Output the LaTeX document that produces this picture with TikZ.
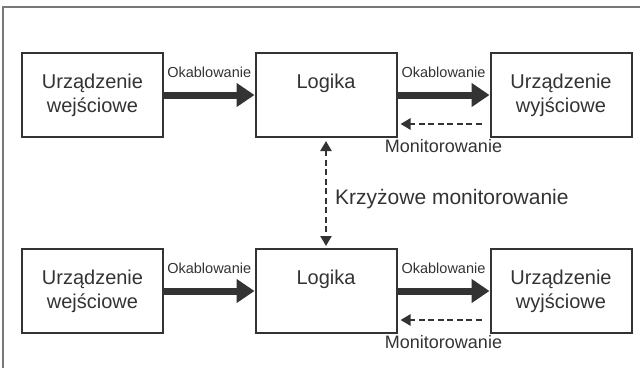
\documentclass[tikz,border=0pt]{standalone}
\usepackage{fontspec}
\setmainfont{Liberation Sans}
\usepackage{tikz}
\usetikzlibrary{arrows.meta}

\definecolor{ink}{RGB}{51,51,51}
\definecolor{framegray}{RGB}{120,120,120}

\begin{document}
\begin{tikzpicture}[x=1pt,y=-1pt,
  block/.style={draw=ink,line width=2pt,minimum width=141pt,minimum height=84pt,
    inner sep=0pt,align=center,text=ink,font=\fontsize{20}{24}\selectfont},
  logicblock/.style={block,text height=15pt,text depth=29pt},
  wiring/.style={draw=ink,line width=7pt,-{Triangle[length=18pt,width=23pt]}},
  monitor/.style={draw=ink,line width=2.4pt,dash pattern={on 6pt off 3.5pt},
    -{Triangle[length=10pt,width=11pt]}},
  smalltag/.style={text=ink,inner sep=0pt,font=\fontsize{14.5}{16}\selectfont},
  tag/.style={text=ink,inner sep=0pt,font=\fontsize{18}{20}\selectfont}]

\useasboundingbox (0,0) rectangle (640,368);

% frame
\draw [framegray,line width=1.5pt] (640,7) -- (3,7) -- (3,368);

% upper channel
\node [block] (in1) at (92.5,95) {Urządzenie\\wejściowe};
\node [logicblock] (logic1) at (326,95) {Logika};
\node [block] (out1) at (561,95) {Urządzenie\\wyjściowe};

% lower channel
\node [block] (in2) at (92.5,291) {Urządzenie\\wejściowe};
\node [logicblock] (logic2) at (326,291) {Logika};
\node [block] (out2) at (561,291) {Urządzenie\\wyjściowe};

% wiring
\draw [wiring] (in1) -- (logic1) node [smalltag,midway,above=14pt] {Okablowanie};
\draw [wiring] (logic1) -- (out1) node [smalltag,midway,above=14pt] {Okablowanie};
\draw [wiring] (in2) -- (logic2) node [smalltag,midway,above=14pt] {Okablowanie};
\draw [wiring] (logic2) -- (out2) node [smalltag,midway,above=14pt] {Okablowanie};

% monitoring feedback
\draw [monitor,shorten <=8pt,shorten >=3pt] ([yshift=-29pt]out1.west) -- ([yshift=-29pt]logic1.east)
  node [tag,midway,below=14pt] {Monitorowanie};
\draw [monitor,shorten <=8pt,shorten >=3pt] ([yshift=-29pt]out2.west) -- ([yshift=-29pt]logic2.east)
  node [tag,midway,below=14pt] {Monitorowanie};

% cross monitoring
\draw [monitor,{Triangle[length=10pt,width=11pt]}-{Triangle[length=10pt,width=11pt]},
  shorten <=3pt,shorten >=2pt] (logic1) -- (logic2)
  node [tag,midway,right=8pt,yshift=-6pt,font=\fontsize{21}{24}\selectfont] {Krzyżowe monitorowanie};
\end{tikzpicture}
\end{document}
